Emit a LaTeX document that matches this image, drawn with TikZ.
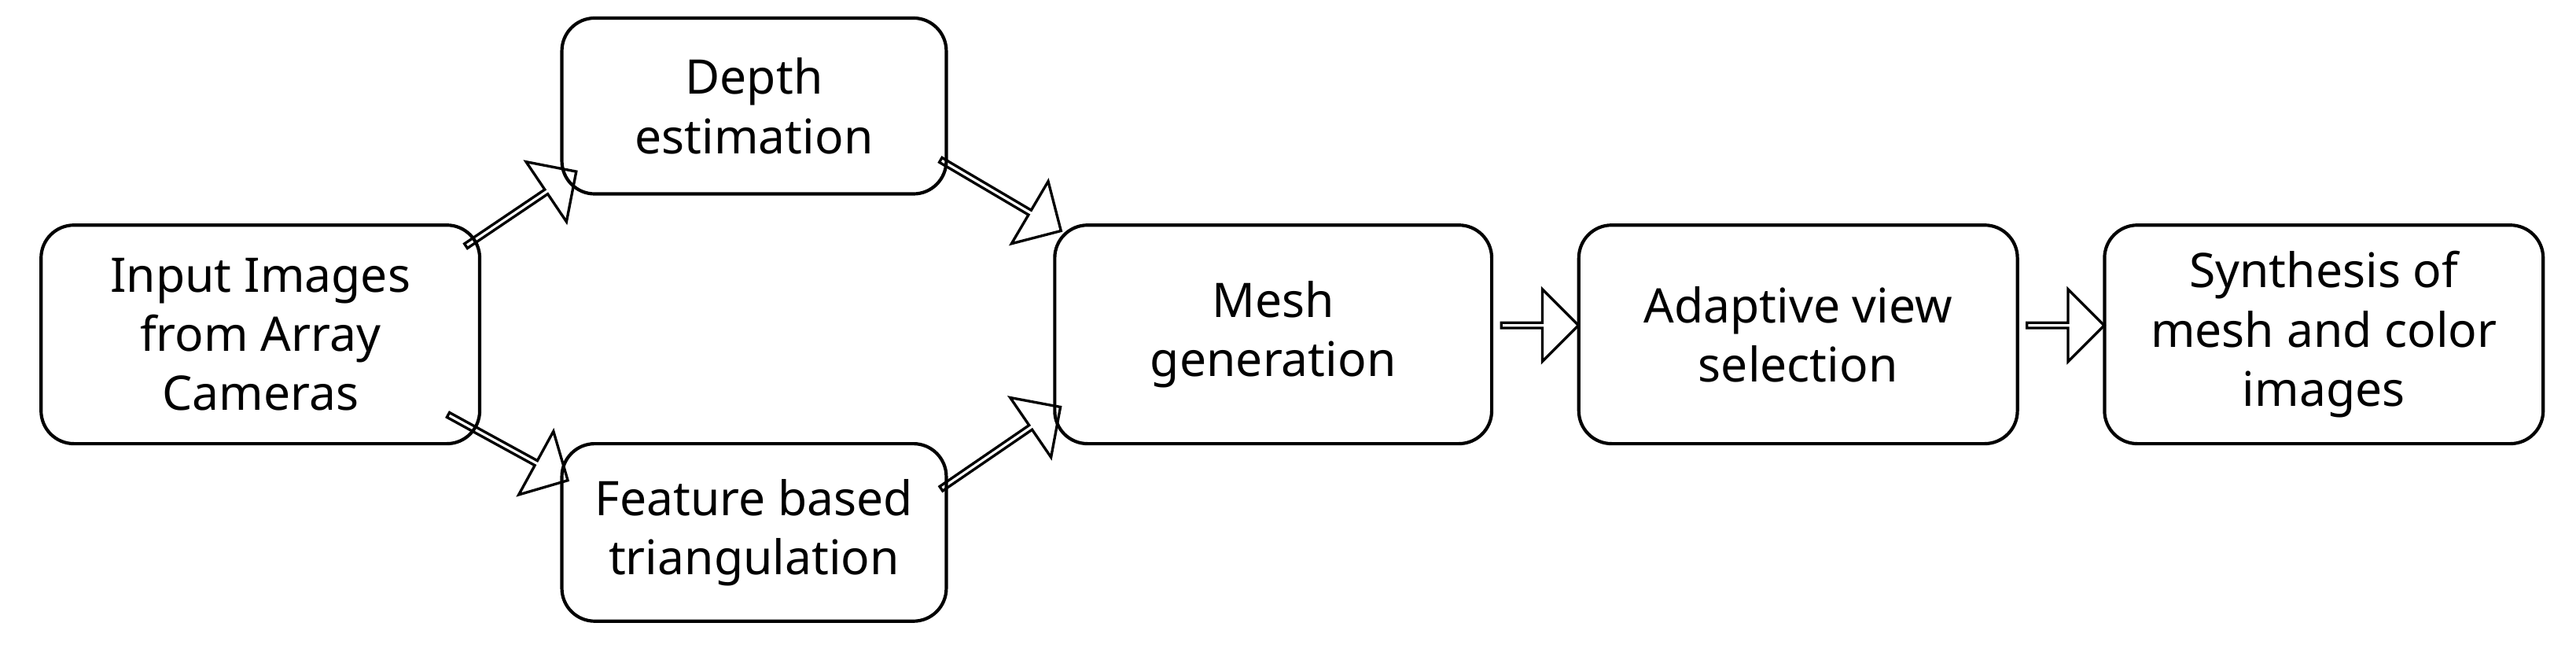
\documentclass[tikz,border=0pt]{standalone}
\usepackage{fontspec}
\setmainfont{Noto Sans}
\usetikzlibrary{shapes.arrows}
\begin{document}
\begin{tikzpicture}[x=0.5pt,y=-0.5pt,
 box/.style={draw,line width=1pt,rounded corners=10pt,align=center,font=\fontsize{14.5}{18}\selectfont},
 barr/.style={draw,line width=0.8pt,single arrow,inner sep=0pt,minimum width=22pt,single arrow head extend=5pt}]
\useasboundingbox (0,0) rectangle (1568,399);
\node[box,minimum width=133.5pt,minimum height=66.5pt] (in) at (158.5,203.5) {Input Images\\from Array\\Cameras};
\node[box,minimum width=117pt,minimum height=53.5pt] (de) at (459,64.5) {Depth\\estimation};
\node[box,minimum width=117pt,minimum height=54pt] (fe) at (459,324) {Feature based\\triangulation};
\node[box,minimum width=133pt,minimum height=66.5pt] (me) at (775,203.5) {Mesh\\generation};
\node[box,minimum width=133.5pt,minimum height=66.5pt] (ad) at (1094.5,203.5) {Adaptive view\\selection};
\node[box,minimum width=133.5pt,minimum height=66.5pt] (sy) at (1414.5,203.5) {Synthesis of\\mesh and color\\images};
\node[barr,minimum height=40.5pt,rotate=34] (a1) at (316.5,127.5) {};
\node[barr,minimum height=41.5pt,rotate=-28.7] (a2) at (308.5,272) {};
\node[barr,minimum height=42.5pt,rotate=-30.5] (a3) at (608.5,118.5) {};
\node[barr,minimum height=44pt,rotate=34.4] (a4) at (608.5,273) {};
\node[barr,minimum height=23.5pt] (a5) at (936.5,198) {};
\node[barr,minimum height=23.5pt] (a6) at (1256.5,198) {};
\end{tikzpicture}
\end{document}
